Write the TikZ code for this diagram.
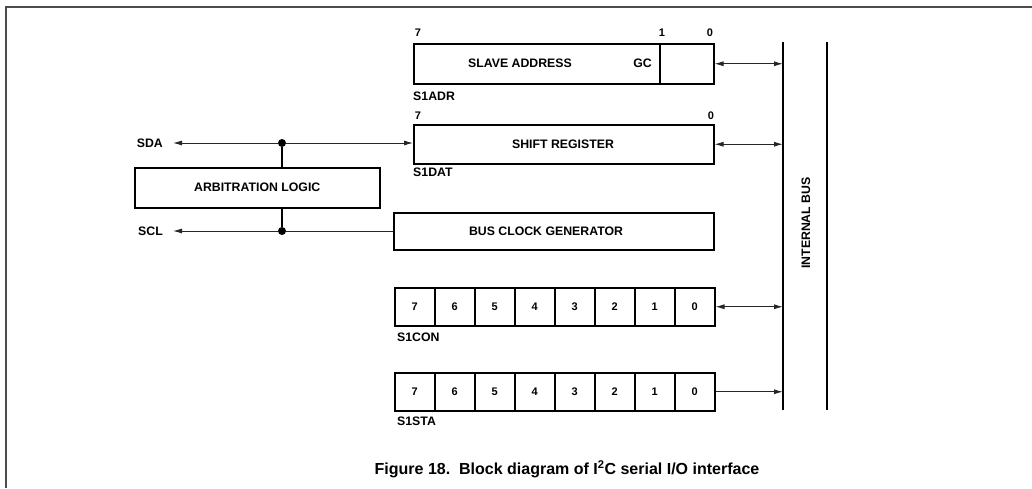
\documentclass[tikz,border=0pt]{standalone}
\usepackage{fontspec}
\setmainfont{Liberation Sans}
\usetikzlibrary{arrows.meta}
\begin{document}
\begin{tikzpicture}[x=1pt,y=-1pt,
  reg/.style={draw, line width=1.5pt, inner sep=0pt, anchor=north west},
  cell/.style={draw, line width=1.5pt, inner sep=0pt, anchor=north west, minimum width=40pt, minimum height=38pt, font=\fontsize{11}{13}\selectfont\bfseries},
  lbl/.style={inner sep=0pt, font=\fontsize{12.3}{14}\selectfont\bfseries},
  bit/.style={inner sep=0pt, font=\fontsize{11}{13}\selectfont\bfseries},
  conn/.style={line width=0.9pt, black!85},
  arr/.style={conn, -{Latex[length=9pt,width=5pt]}},
  darr/.style={conn, {Latex[length=9pt,width=5pt]}-{Latex[length=9pt,width=5pt]}},
  bus/.style={line width=2pt},
  dot/.style={circle, fill=black, inner sep=0pt, minimum size=8pt},
]
\useasboundingbox (0,0) rectangle (1032,488);
% frame
\draw[line width=1.2pt, black!70] (6,488) -- (6,7) -- (1032,7);

% internal bus
\coordinate (bustop) at (783,42);
\coordinate (busbot) at (783,410);
\coordinate (bus2top) at (827,42);
\coordinate (bus2bot) at (827,410);
\draw[bus] (bustop) -- (busbot);
\draw[bus] (bus2top) -- (bus2bot);
\node[lbl, rotate=90] (ibus) at (806,223) {INTERNAL BUS};

% slave address register
\node[reg, minimum width=246pt, minimum height=40pt] (sadr) at (413,43) {};
\node[reg, minimum width=54pt, minimum height=40pt] (sadr0) at (659,43) {};
\node[lbl] (sadrtxt) at (520,63) {SLAVE ADDRESS};
\node[lbl, anchor=east] (gc) at (652,63) {GC};
\node[bit] (sa7) at (418,33) {7};
\node[bit] (sa1) at (662,33) {1};
\node[bit] (sa0) at (710,33) {0};
\node[lbl, anchor=west] (s1adr) at (413,96) {S1ADR};

% shift register
\node[reg, minimum width=300pt, minimum height=39pt] (sreg) at (413,124) {};
\node[lbl] (sregtxt) at (563,144) {SHIFT REGISTER};
\node[bit] (sr7) at (418,116) {7};
\node[bit] (sr0) at (711,116) {0};
\node[lbl, anchor=west] (s1dat) at (413,172) {S1DAT};

% bus clock generator
\node[reg, minimum width=320pt, minimum height=37pt] (bcg) at (393,212) {};
\node[lbl] (bcgtxt) at (546,231) {BUS CLOCK GENERATOR};

% arbitration logic
\node[reg, minimum width=245pt, minimum height=40pt, font=\fontsize{12.3}{14}\selectfont\bfseries] (arb) at (134,167) {ARBITRATION LOGIC};

% S1CON
\foreach \b [count=\i from 0] in {7,6,5,4,3,2,1,0}
  \node[cell] (con\b) at (394+40*\i,287) {\b};
\node[lbl, anchor=west] (s1con) at (397,337) {S1CON};

% S1STA
\foreach \b [count=\i from 0] in {7,6,5,4,3,2,1,0}
  \node[cell] (sta\b) at (394+40*\i,372) {\b};
\node[lbl, anchor=west] (s1sta) at (397,421) {S1STA};

% register <-> bus connectors
\draw[darr] (sadr0.east) -- (sadr0.east -| bustop);
\draw[darr] (sreg.east) -- (sreg.east -| bustop);
\draw[darr] (con0.east) -- (con0.east -| bustop);
\draw[arr] (sta0.east) -- (sta0.east -| bustop);

% SDA / SCL
\node[lbl, anchor=east] (sda) at (163,143) {SDA};
\node[lbl, anchor=east] (scl) at (163,231) {SCL};
\coordinate (sdaend) at (173,143);
\coordinate (sclend) at (173,231);
\node[dot] (j1) at (282,143) {};
\node[dot] (j2) at (282,231) {};
\draw[arr] (j1) -- (sdaend);
\draw[arr] (j1) -- (j1 -| sreg.west);
\draw[line width=1.2pt] (j1) -- (j1 |- arb.north);
\draw[line width=1.2pt] (j1 |- arb.south) -- (j2);
\draw[conn] (bcg.west |- j2) -- (j2);
\draw[arr] (j2) -- (sclend);

% caption
\node[inner sep=0pt, font=\fontsize{16}{18}\selectfont\bfseries] (cap) at (567,469) {Figure 18.\ \ Block diagram of I\textsuperscript{2}C serial I/O interface};
\end{tikzpicture}
\end{document}
